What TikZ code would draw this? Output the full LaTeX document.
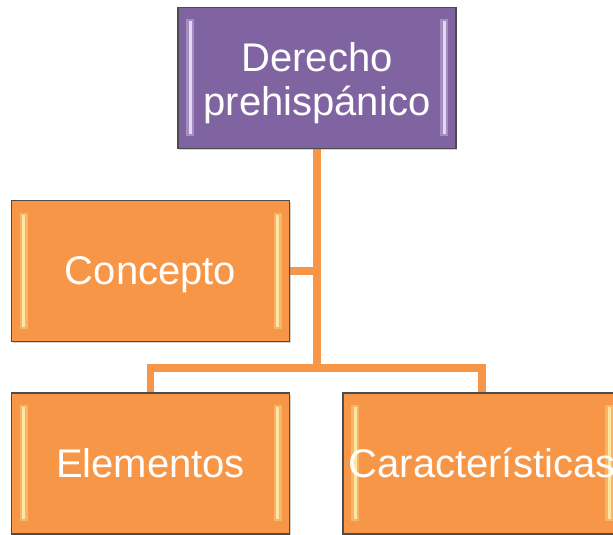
\documentclass[tikz,border=0pt]{standalone}
\usepackage{fontspec}
\setmainfont{Liberation Sans}
\usetikzlibrary{positioning,shadows,backgrounds}

\definecolor{lila}{HTML}{8064A2}
\definecolor{lilaclaro}{HTML}{EADFF7}
\definecolor{naranja}{HTML}{F79646}
\definecolor{naranjaclaro}{HTML}{FFEDAA}

\tikzset{
  caja/.style 2 args={draw=black!70, fill=#1, line width=1.4pt, minimum width=278pt, minimum height=141pt,
    inner sep=0pt, text=white, align=center, font=\fontsize{40}{44}\selectfont,
    drop shadow={opacity=0.35, shadow xshift=1pt, shadow yshift=-1.5pt},
    path picture={
      \fill[#2, opacity=0.35]
        ([xshift=8pt,yshift=-12pt]path picture bounding box.north west)
        rectangle ([xshift=16pt,yshift=13pt]path picture bounding box.south west);
      \fill[#2, opacity=0.9]
        ([xshift=10.5pt,yshift=-14pt]path picture bounding box.north west)
        rectangle ([xshift=13.5pt,yshift=15pt]path picture bounding box.south west);
      \fill[#2, opacity=0.35]
        ([xshift=-8pt,yshift=-12pt]path picture bounding box.north east)
        rectangle ([xshift=-16pt,yshift=13pt]path picture bounding box.south east);
      \fill[#2, opacity=0.9]
        ([xshift=-10.5pt,yshift=-14pt]path picture bounding box.north east)
        rectangle ([xshift=-13.5pt,yshift=15pt]path picture bounding box.south east);
    }},
  raiz/.style={caja={lila}{lilaclaro}, text height=84pt, text depth=10pt},
  hoja/.style={caja={naranja}{naranjaclaro}, text height=35pt, text depth=8pt},
  conector/.style={draw=naranja, line width=7.5pt}
}

\begin{document}
\begin{tikzpicture}[x=1pt, y=-1pt]
  \useasboundingbox (0,0) rectangle (613,535);

  \node[raiz] (derecho) at (317,78) {Derecho\\prehispánico};
  \node[hoja] (concepto) at (150.5,271) {Concepto};
  \node[hoja] (elementos) at (150.5,463.5) {Elementos};
  \node[hoja] (caracteristicas) at (482,463.5) {Características};

  \coordinate (rama) at (317,368);

  % lineas del arbol
  \begin{scope}[on background layer]
    \draw[conector] (derecho.south) -- (rama);
    \draw[conector] (concepto.east) -- (concepto.east -| rama);
    \draw[conector] (elementos.north) |- (rama) -| (caracteristicas.north);
  \end{scope}
\end{tikzpicture}
\end{document}
